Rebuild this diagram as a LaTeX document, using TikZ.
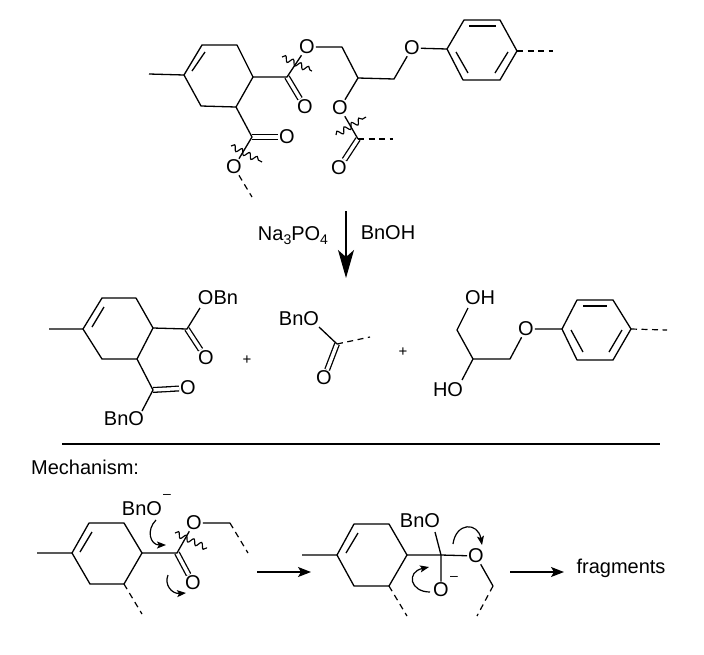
\documentclass[tikz,border=0pt]{standalone}
\usepackage{fontspec}
\setmainfont{Liberation Sans}
\usetikzlibrary{arrows.meta, decorations.pathmorphing}
\tikzstyle{bond} = [draw, line width=1.3pt, line join=round]
\tikzstyle{dbond} = [draw, line width=1.3pt, double, double distance=3.4pt]
\tikzstyle{dbondh} = [draw, line width=1.2pt, dash pattern=on 6pt off 4.5pt]
\tikzstyle{wavy} = [draw, line width=1.15pt, decorate, decoration={snake, amplitude=2.8pt, segment length=8.5pt}]
\tikzstyle{atom} = [inner sep=1pt, font=\fontsize{20}{22}\selectfont]
\tikzstyle{lbl} = [inner sep=1pt, font=\fontsize{20}{22}\selectfont]
\tikzstyle{pl} = [inner sep=0pt, font=\fontsize{15}{16}\selectfont]
\tikzstyle{rarrow} = [draw, line width=1.3pt, -{Stealth[length=13pt, width=10pt, inset=3pt]}]
\tikzstyle{curly} = [draw, line width=1.2pt, -{Stealth[length=9pt, width=7pt, inset=2pt]}]
\newcommand{\subn}[1]{\raisebox{-4pt}{\fontsize{14}{14}\selectfont #1}}

\begin{document}
\begin{tikzpicture}[x=1pt, y=-1pt]
	\useasboundingbox (0,0) rectangle (704,654);
	% starting material
	\coordinate (m0) at (149,74);
	\coordinate (r1) at (184,75);
	\coordinate (r2) at (202,45);
	\coordinate (r3) at (237,45);
	\coordinate (r4) at (253,77);
	\coordinate (r5) at (236,107);
	\coordinate (r6) at (201,106);
	\coordinate (c1) at (287,77);
	\coordinate (c2) at (252,137);
	\coordinate (c3) at (358,139);
	\coordinate (g1) at (342,47);
	\coordinate (g2) at (358,78);
	\coordinate (g3) at (394,79);
	\node[atom] (oa) at (307,47) {O};
	\node[atom] (ob) at (305,107) {O};
	\node[atom] (oc) at (287,137) {O};
	\node[atom] (od) at (234,167) {O};
	\node[atom] (oe) at (340,108) {O};
	\node[atom] (of) at (339,168) {O};
	\node[atom] (og) at (412,48) {O};
	\coordinate (t1) at (447,49);
	\coordinate (t2) at (463,80);
	\coordinate (t3) at (500,80);
	\coordinate (t4) at (517,51);
	\coordinate (t5) at (500,20);
	\coordinate (t6) at (464,20);
	\coordinate (d1) at (252,197);
	\coordinate (d2) at (393,139);
	\coordinate (d3) at (553,51);
	\draw[dbond] (c1) -- (ob);
	\draw[dbond] (c2) -- (oc);
	\draw[dbond] (c3) -- (of);
	\draw[bond] (m0) -- (r1) -- (r2) -- (r3) -- (r4) -- (r5) -- (r6) -- (r1);
	\draw[bond] (205,52) -- (192,71);
	\draw[bond] (r4) -- (c1) -- (oa);
	\draw[bond] (r5) -- (c2) -- (od);
	\draw[bond] (oa) -- (g1) -- (g2) -- (oe);
	\draw[bond] (g2) -- (g3) -- (og);
	\draw[bond] (oe) -- (c3);
	\draw[bond] (og) -- (t1) -- (t2) -- (t3) -- (t4) -- (t5) -- (t6) -- (t1);
	\draw[bond] (456,52) -- (468,73);
	\draw[bond] (495,73) -- (508,52);
	\draw[bond] (469,26) -- (496,26);
	\draw[dbondh] (od) -- (d1);
	\draw[dbondh] (c3) -- (d2);
	\draw[dbondh] (t4) -- (d3);
	\draw[wavy] (282,57) -- (312,71);
	\draw[wavy] (231,146) -- (262,162);
	\draw[wavy] (336,135) -- (366,117);
	% reaction arrow
	\coordinate (a1) at (346,211);
	\coordinate (a2) at (346,278);
	\draw[line width=1.2pt, -{Stealth[length=28pt, width=16pt, inset=7pt]}] (a1) -- (a2);
	\node[lbl] (na) at (293,236) {Na\subn{3}PO\subn{4}};
	\node[lbl] (boh) at (388,233) {BnOH};
	% products
	\coordinate (p0) at (49,329);
	\coordinate (p1) at (83,329);
	\coordinate (p2) at (102,298);
	\coordinate (p3) at (136,298);
	\coordinate (p4) at (153,328);
	\coordinate (p5) at (137,359);
	\coordinate (p6) at (102,359);
	\coordinate (k1) at (187,329);
	\coordinate (k2) at (153,390);
	\node[lbl] (pa) at (218,298) {OBn};
	\coordinate (pa1) at (200,308);
	\node[atom] (pb) at (206,358) {O};
	\node[atom] (pc) at (188,388) {O};
	\node[lbl] (pd) at (124,419) {BnO};
	\coordinate (pd1) at (142,411);
	\draw[dbond] (k1) -- (pb);
	\draw[dbond] (k2) -- (pc);
	\draw[bond] (p0) -- (p1) -- (p2) -- (p3) -- (p4) -- (p5) -- (p6) -- (p1);
	\draw[bond] (104,307) -- (92,327);
	\draw[bond] (p4) -- (k1) -- (pa1);
	\draw[bond] (p5) -- (k2) -- (pd1);
	\node[pl] (pl1) at (247,360) {+};
	\node[lbl] (qa) at (299,319) {BnO};
	\coordinate (qa1) at (319,327);
	\coordinate (q1) at (337,344);
	\coordinate (q2) at (370,337);
	\node[atom] (qb) at (324,378) {O};
	\draw[dbond] (q1) -- (qb);
	\draw[bond] (qa1) -- (q1);
	\draw[dbondh] (q1) -- (q2);
	\node[pl] (pl2) at (403,352) {+};
	\node[lbl] (ra) at (480,298) {OH};
	\coordinate (ra1) at (468,308);
	\coordinate (s1) at (457,330);
	\coordinate (s2) at (473,359);
	\coordinate (s3) at (510,359);
	\node[lbl] (rb) at (448,390) {HO};
	\coordinate (rb1) at (462,380);
	\node[atom] (rc) at (526,329) {O};
	\coordinate (u1) at (562,329);
	\coordinate (u2) at (577,300);
	\coordinate (u3) at (613,300);
	\coordinate (u4) at (631,329);
	\coordinate (u5) at (613,360);
	\coordinate (u6) at (577,360);
	\coordinate (d4) at (667,330);
	\draw[bond] (ra1) -- (s1) -- (s2) -- (s3) -- (rc);
	\draw[bond] (s2) -- (rb1);
	\draw[bond] (rc) -- (u1) -- (u2) -- (u3) -- (u4) -- (u5) -- (u6) -- (u1);
	\draw[bond] (583,306) -- (607,306);
	\draw[bond] (571,330) -- (583,352);
	\draw[bond] (609,352) -- (622,330);
	\draw[dbondh] (u4) -- (d4);
	% mechanism
	\coordinate (l1) at (62,444);
	\coordinate (l2) at (660,444);
	\draw[line width=1.2pt] (l1) -- (l2);
	\node[lbl, anchor=west] (mech) at (30,467) {Mechanism:};
	\coordinate (v0) at (37,553);
	\coordinate (v1) at (72,553);
	\coordinate (v2) at (89,523);
	\coordinate (v3) at (124,523);
	\coordinate (v4) at (142,553);
	\coordinate (v5) at (124,584);
	\coordinate (v6) at (90,584);
	\coordinate (v7) at (177,553);
	\coordinate (v8) at (230,523);
	\coordinate (d5) at (142,614);
	\coordinate (d6) at (248,553);
	\node[atom] (va) at (194,523) {O};
	\node[atom] (vb) at (193,583) {O};
	\node[lbl] (vc) at (142,509) {BnO};
	\node[inner sep=0pt, font=\fontsize{14}{14}\selectfont] (vm) at (167,496) {--};
	\draw[dbond] (v7) -- (vb);
	\draw[bond] (v0) -- (v1) -- (v2) -- (v3) -- (v4) -- (v5) -- (v6) -- (v1);
	\draw[bond] (92,532) -- (80,552);
	\draw[bond] (v4) -- (v7) -- (va) -- (v8);
	\draw[dbondh] (v5) -- (d5);
	\draw[dbondh] (v8) -- (d6);
	\draw[wavy] (175,533) -- (207,548);
	\coordinate (w1) at (156,520);
	\coordinate (w2) at (166,545);
	\coordinate (w3) at (168,575);
	\coordinate (w4) at (186,593);
	\draw[curly] (w1) .. controls (146,530) and (150,545) .. (w2);
	\draw[curly] (w3) .. controls (164,585) and (172,594) .. (w4);
	\coordinate (b1) at (257,572);
	\coordinate (b2) at (311,572);
	\draw[rarrow] (b1) -- (b2);
	\coordinate (x0) at (302,555);
	\coordinate (x1) at (337,555);
	\coordinate (x2) at (354,524);
	\coordinate (x3) at (389,524);
	\coordinate (x4) at (407,555);
	\coordinate (x5) at (389,586);
	\coordinate (x6) at (354,586);
	\coordinate (x7) at (441,555);
	\coordinate (x8) at (493,586);
	\coordinate (d7) at (407,616);
	\coordinate (d8) at (477,616);
	\node[lbl] (xa) at (420,521) {BnO};
	\coordinate (xa1) at (435,532);
	\node[atom] (xb) at (476,556) {O};
	\node[atom] (xc) at (441,590) {O};
	\node[inner sep=0pt, font=\fontsize{14}{14}\selectfont] (xm) at (454,578) {--};
	\draw[bond] (x0) -- (x1) -- (x2) -- (x3) -- (x4) -- (x5) -- (x6) -- (x1);
	\draw[bond] (358,533) -- (346,553);
	\draw[bond] (x4) -- (x7) -- (xb) -- (x8);
	\draw[bond] (xa1) -- (x7) -- (xc);
	\draw[dbondh] (x5) -- (d7);
	\draw[dbondh] (x8) -- (d8);
	\coordinate (y1) at (453,544);
	\coordinate (y2) at (482,545);
	\coordinate (y3) at (430,592);
	\coordinate (y4) at (429,567);
	\draw[curly] (y1) .. controls (456,522) and (478,522) .. (y2);
	\draw[curly] (y3) .. controls (410,592) and (406,572) .. (y4);
	\coordinate (b3) at (510,572);
	\coordinate (b4) at (564,572);
	\draw[rarrow] (b3) -- (b4);
	\node[lbl] (frag) at (621,568) {fragments};
\end{tikzpicture}
\end{document}
